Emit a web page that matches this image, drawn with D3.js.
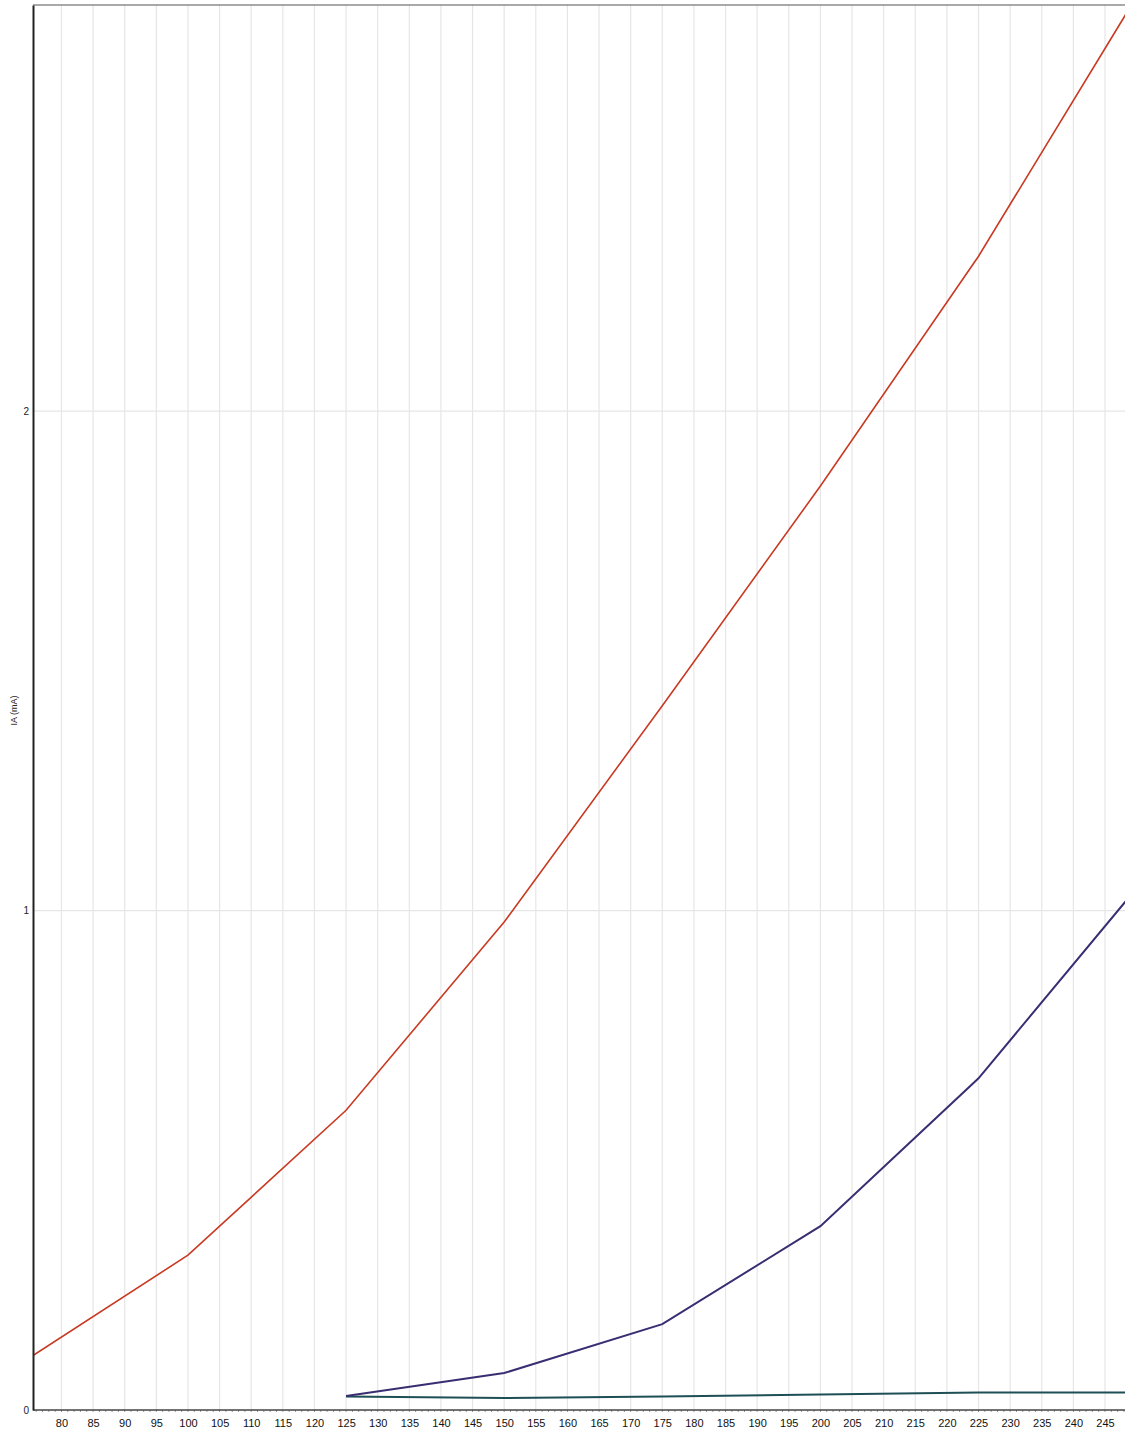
<!DOCTYPE html>
<html>
<head>
<meta charset="utf-8">
<script src="https://cdn.jsdelivr.net/npm/d3@7"></script>
<style>
  body { margin: 0; background: #fff; }
  svg { display: block; font-family: "Liberation Sans", Arial, sans-serif; }
</style>
</head>
<body>
<div id="chart"></div>
<script>
// anode voltage (x) and anode current in mA for each curve
const voltages = [75, 100, 125, 150, 175, 200, 225, 250];
const redCurve = [0.105, 0.31, 0.60, 0.977, 1.41, 1.85, 2.31, 2.83];
const blueVoltages = [125, 150, 175, 200, 225, 250];
const blueCurve = [0.028, 0.074, 0.172, 0.368, 0.664, 1.045];
const greenCurve = [0.027, 0.024, 0.027, 0.031, 0.035, 0.035];

const xTicks = d3.range(80, 250, 5);
const yTicks = [0, 1, 2];
const yLabel = "IA (mA)";

const width = 1125, height = 1437;
const margin = { top: 5, right: 0, bottom: 27, left: 33 };

const x = d3.scaleLinear().domain([75.5, 248.16]).range([margin.left, width - margin.right]);
const y = d3.scaleLinear().domain([0, 2.813]).range([height - margin.bottom, margin.top]);

const svg = d3.select("#chart").append("svg")
    .attr("width", width)
    .attr("height", height);

svg.append("defs").append("clipPath").attr("id", "plot")
    .append("rect")
    .attr("x", margin.left)
    .attr("y", margin.top)
    .attr("width", width - margin.left - margin.right)
    .attr("height", height - margin.top - margin.bottom);

//grid
svg.append("g")
    .selectAll("line.vgrid")
    .data(xTicks)
    .join("line")
    .attr("class", "vgrid")
    .attr("x1", (d) => x(d)).attr("x2", (d) => x(d))
    .attr("y1", margin.top).attr("y2", height - margin.bottom)
    .attr("stroke", "#e6e6e6")
    .attr("stroke-width", 1.2);

svg.append("g")
    .selectAll("line.hgrid")
    .data(yTicks.slice(1))
    .join("line")
    .attr("class", "hgrid")
    .attr("x1", margin.left).attr("x2", width)
    .attr("y1", (d) => y(d)).attr("y2", (d) => y(d))
    .attr("stroke", "#e6e6e6")
    .attr("stroke-width", 1.2);

//frame top
svg.append("line")
    .attr("x1", margin.left).attr("x2", width)
    .attr("y1", margin.top).attr("y2", margin.top)
    .attr("stroke", "#555")
    .attr("stroke-width", 1.2);

//curves
const gLines = svg.append("g").attr("clip-path", "url(#plot)");
const line = d3.line().x((d) => x(d[0])).y((d) => y(d[1]));

gLines.append("path")
    .datum(d3.zip(blueVoltages, greenCurve))
    .attr("d", line)
    .attr("fill", "none")
    .attr("stroke", "#1e4f55")
    .attr("stroke-width", 2);

gLines.append("path")
    .datum(d3.zip(blueVoltages, blueCurve))
    .attr("d", line)
    .attr("fill", "none")
    .attr("stroke", "#3a2d72")
    .attr("stroke-width", 2);

gLines.append("path")
    .datum(d3.zip(voltages, redCurve))
    .attr("d", line)
    .attr("fill", "none")
    .attr("stroke", "#c83a22")
    .attr("stroke-width", 1.6);

//x axis
const xAxis = svg.append("g")
    .attr("transform", `translate(0,${height - margin.bottom})`)
    .call(d3.axisBottom(x).tickValues(xTicks).tickSize(0).tickPadding(9))
    .call((g) => g.select(".domain").remove());
xAxis.selectAll("text").attr("font-size", 11).attr("fill", "#111");

svg.append("g")
    .attr("transform", `translate(0,${height - margin.bottom})`)
    .selectAll("line")
    .data(d3.range(76, 249, 1))
    .join("line")
    .attr("x1", (d) => x(d)).attr("x2", (d) => x(d))
    .attr("y1", 0).attr("y2", 2)
    .attr("stroke", "#999");

svg.append("line")
    .attr("x1", margin.left).attr("x2", width)
    .attr("y1", height - margin.bottom).attr("y2", height - margin.bottom)
    .attr("stroke", "#444")
    .attr("stroke-width", 1.5);

//y axis
const yAxis = svg.append("g")
    .attr("transform", `translate(${margin.left},0)`)
    .call(d3.axisLeft(y).tickValues(yTicks).tickFormat(d3.format("d")).tickSize(0).tickPadding(4))
    .call((g) => g.select(".domain").attr("stroke", "#222").attr("stroke-width", 2));
yAxis.selectAll("text").attr("font-size", 10).attr("fill", "#222");

svg.append("text")
    .attr("transform", `translate(17,${(margin.top + height - margin.bottom) / 2 + 3})rotate(-90)`)
    .attr("text-anchor", "middle")
    .attr("font-size", 9)
    .attr("fill", "#222")
    .text(yLabel);
</script>
</body>
</html>
